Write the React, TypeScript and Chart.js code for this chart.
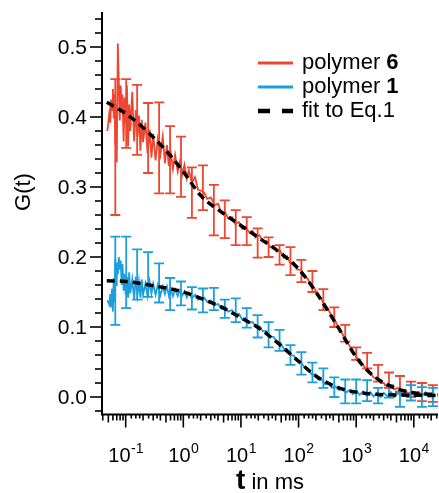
import React, { useEffect, useRef } from "react";
import { Chart, registerables } from "chart.js";

Chart.register(...registerables);

const FONT = '"Liberation Sans", Arial, Helvetica, sans-serif';
const RED = "#ee4630";
const BLUE = "#1c9fdc";

// lag times (ms)
const lagTimes = [
  0.048, 0.05, 0.052, 0.054, 0.056, 0.058, 0.06, 0.062, 0.064, 0.066, 0.068, 0.07, 0.073, 0.076, 0.079,
  0.082, 0.085, 0.088, 0.092, 0.096, 0.1, 0.105, 0.11, 0.115, 0.12, 0.13, 0.14, 0.15, 0.16, 0.17,
  0.18, 0.19, 0.2, 0.22, 0.24, 0.26, 0.28, 0.3, 0.33, 0.36, 0.4, 0.44, 0.48, 0.52, 0.56,
  0.6, 0.66, 0.72, 0.8, 0.88, 0.96, 1.05, 1.15, 1.25, 1.4, 1.6, 1.8, 2.0,
  2.3, 2.6, 3.0, 3.5, 4.0, 4.6, 5.3, 6, 7, 8, 9.2, 10.5, 12, 14, 16, 18, 21, 24, 28, 32, 37, 42, 48,
  55, 63, 72, 83, 95, 110, 125, 145, 165, 190, 220, 250, 290, 330, 380, 440, 500, 580, 660, 760, 870,
  1000, 1150, 1320, 1520, 1750, 2000, 2300, 2650, 3000, 3500, 4000, 4600, 5300, 6000, 7000, 8000,
  9200, 10500, 12000, 14000, 16000, 18500, 21000, 24000,
];

// polymer 6 (red) correlation data
const polymer6 = [
  0.380, 0.392, 0.405, 0.392, 0.425, 0.410, 0.440, 0.398, 0.432, 0.360, 0.418, 0.335, 0.505, 0.450, 0.395,
  0.445, 0.410, 0.432, 0.365, 0.428, 0.392, 0.445, 0.358, 0.418, 0.380, 0.436, 0.365, 0.410, 0.372, 0.402,
  0.352, 0.396, 0.364, 0.392, 0.348, 0.382, 0.342, 0.376, 0.338, 0.368, 0.346, 0.372, 0.334, 0.360, 0.330,
  0.352, 0.326, 0.346, 0.322, 0.338, 0.318, 0.332, 0.312, 0.324, 0.306, 0.314, 0.296, 0.295,
  0.292, 0.283, 0.285, 0.274, 0.276, 0.263, 0.264, 0.255, 0.257, 0.247, 0.250, 0.240, 0.243, 0.235, 0.237, 0.228, 0.231, 0.222, 0.223, 0.214, 0.216, 0.208, 0.209,
  0.199, 0.201, 0.191, 0.192, 0.182, 0.182, 0.172, 0.169, 0.158, 0.155, 0.144, 0.140, 0.129, 0.125, 0.114, 0.108, 0.097, 0.090, 0.080, 0.074, 0.064,
  0.058, 0.050, 0.046, 0.038, 0.035, 0.028, 0.027, 0.020, 0.020, 0.014, 0.015, 0.011, 0.013, 0.008, 0.010, 0.005,
  0.008, 0.004, 0.007, 0.003, 0.006, 0.002, 0.005, 0.001,
];

// polymer 1 (blue) correlation data
const polymer1 = [
  0.138, 0.135, 0.132, 0.147, 0.128, 0.155, 0.122, 0.170, 0.135, 0.198, 0.160, 0.192, 0.175, 0.200, 0.182,
  0.195, 0.160, 0.190, 0.152, 0.176, 0.146, 0.172, 0.142, 0.178, 0.148, 0.168, 0.140, 0.172, 0.146, 0.165,
  0.142, 0.168, 0.146, 0.162, 0.144, 0.165, 0.148, 0.162, 0.146, 0.160, 0.145, 0.158, 0.147, 0.158, 0.145,
  0.156, 0.144, 0.154, 0.144, 0.153, 0.145, 0.151, 0.142, 0.149, 0.141, 0.146, 0.139, 0.142,
  0.142, 0.136, 0.138, 0.131, 0.133, 0.126, 0.129, 0.122, 0.124, 0.117, 0.119, 0.111, 0.113, 0.106, 0.107, 0.100, 0.101, 0.094, 0.094, 0.086, 0.086, 0.078, 0.078,
  0.069, 0.068, 0.060, 0.059, 0.051, 0.050, 0.043, 0.040, 0.033, 0.032, 0.025, 0.025, 0.018, 0.019, 0.013, 0.015, 0.010, 0.012, 0.006, 0.010, 0.004,
  0.009, 0.003, 0.008, 0.002, 0.007, 0.001, 0.006, 0.000, 0.006, 0.001, 0.007, 0.000, 0.006, 0.002, 0.008, 0.001,
  0.006, 0.000, 0.005, 0.002, 0.007, 0.001, 0.006, 0.002,
];

// fits to Eq.1
const fitTimes6 = [0.047, 0.1, 0.2, 0.5, 1, 2, 5, 10, 20, 50, 100, 200, 500, 1000, 2000, 5000, 10000, 26000];
const fit6 = [0.421, 0.405, 0.385, 0.352, 0.322, 0.288, 0.262, 0.245, 0.228, 0.205, 0.183, 0.150, 0.098, 0.057, 0.030, 0.012, 0.006, 0.003];
const fitTimes1 = [0.047, 0.1, 0.3, 1, 2, 5, 10, 20, 50, 100, 200, 500, 1000, 2000, 5000, 26000];
const fit1 = [0.166, 0.165, 0.159, 0.150, 0.141, 0.127, 0.113, 0.099, 0.073, 0.051, 0.030, 0.013, 0.007, 0.004, 0.003, 0.002];

// error bars
const errTimes = [
  0.066, 0.102, 0.158, 0.245, 0.38, 0.589, 0.912, 1.41, 2.19, 3.39, 5.25, 8.13, 12.6, 19.5, 30.2,
  46.8, 72.4, 112, 174, 269, 417, 646, 1000, 1549, 2399, 3715, 5754, 8913, 13800, 21380,
];
const err6Mean = [
  0.357, 0.405, 0.396, 0.370, 0.356, 0.339, 0.329, 0.292, 0.299, 0.267, 0.254, 0.242, 0.237, 0.220, 0.214,
  0.203, 0.194, 0.180, 0.165, 0.139, 0.114, 0.091, 0.062, 0.052, 0.034, 0.024, 0.018, 0.011, 0.007, 0.005,
];
const err6Dev = [
  0.097, 0.049, 0.050, 0.050, 0.065, 0.048, 0.043, 0.036, 0.032, 0.036, 0.027, 0.025, 0.020, 0.021, 0.014,
  0.014, 0.020, 0.016, 0.015, 0.015, 0.014, 0.012, 0.009, 0.011, 0.012, 0.011, 0.012, 0.011, 0.013, 0.012,
];
const err1Mean = [
  0.166, 0.178, 0.175, 0.175, 0.163, 0.147, 0.148, 0.141, 0.138, 0.140, 0.126, 0.124, 0.113, 0.101, 0.089,
  0.081, 0.060, 0.048, 0.035, 0.027, 0.014, 0.008, 0.008, 0.009, 0.002, 0.008, -0.003, 0.006, 0.000, 0.000,
];
const err1Dev = [
  0.063, 0.051, 0.036, 0.032, 0.028, 0.023, 0.017, 0.016, 0.017, 0.016, 0.013, 0.017, 0.014, 0.016, 0.018,
  0.015, 0.014, 0.016, 0.014, 0.014, 0.014, 0.017, 0.017, 0.015, 0.011, 0.009, 0.011, 0.011, 0.014, 0.013,
];

// axes
const X_MIN = 0.0388;
const X_MAX = 26300;
const Y_MIN = -0.025;
const Y_MAX = 0.55;
const yMajorTicks = [0, 0.1, 0.2, 0.3, 0.4, 0.5];
const yTickLabels = ["0.0", "0.1", "0.2", "0.3", "0.4", "0.5"];
const xDecades = [-1, 0, 1, 2, 3, 4];
const xTickExponents = ["-1", "0", "1", "2", "3", "4"];
const yTitle = "G(t)";
const xTitleBold = "t";
const xTitleRest = " in ms";

const legendItems = [
  { text: "polymer ", bold: "6", color: RED, dashed: false },
  { text: "polymer ", bold: "1", color: BLUE, dashed: false },
  { text: "fit to Eq.1", bold: "", color: "#000", dashed: true },
];

const errorBarPlugin = {
  id: "errorBars",
  beforeDatasetsDraw(chart: any) {
    const { ctx, scales } = chart;
    const x = scales.x;
    const y = scales.y;
    const drawSet = (means: number[], devs: number[], color: string) => {
      ctx.strokeStyle = color;
      ctx.lineWidth = 1.8;
      errTimes.forEach((t, i) => {
        const px = x.getPixelForValue(t);
        const top = y.getPixelForValue(means[i] + devs[i]);
        const bot = y.getPixelForValue(means[i] - devs[i]);
        ctx.beginPath();
        ctx.moveTo(px, top);
        ctx.lineTo(px, bot);
        ctx.moveTo(px - 5, top);
        ctx.lineTo(px + 5, top);
        ctx.moveTo(px - 5, bot);
        ctx.lineTo(px + 5, bot);
        ctx.stroke();
      });
    };
    ctx.save();
    drawSet(err6Mean, err6Dev, RED);
    drawSet(err1Mean, err1Dev, BLUE);
    ctx.restore();
  },
};

const axesPlugin = {
  id: "customAxes",
  afterDraw(chart: any) {
    const { ctx, scales, chartArea } = chart;
    const x = scales.x;
    const y = scales.y;
    const left = chartArea.left;
    const bottom = chartArea.bottom;
    ctx.save();
    ctx.strokeStyle = "#000";
    ctx.fillStyle = "#000";
    // axis lines
    ctx.lineWidth = 2;
    ctx.beginPath();
    ctx.moveTo(left, chartArea.top);
    ctx.lineTo(left, bottom + 1);
    ctx.moveTo(left - 1, bottom);
    ctx.lineTo(chartArea.right, bottom);
    ctx.stroke();

    // y ticks
    ctx.lineWidth = 1.6;
    for (let i = -1; i <= 27; i++) {
      const v = i * 0.02;
      const py = y.getPixelForValue(v);
      const major = i % 5 === 0;
      const len = major ? 12 : 7;
      ctx.beginPath();
      ctx.moveTo(left - len, py);
      ctx.lineTo(left, py);
      ctx.stroke();
    }
    ctx.font = `21px ${FONT}`;
    ctx.textAlign = "right";
    ctx.textBaseline = "middle";
    yMajorTicks.forEach((v, i) => {
      ctx.fillText(yTickLabels[i], left - 15, y.getPixelForValue(v) + 1);
    });

    // x ticks
    const subs = [1.25, 1.5, 1.75, 2, 2.5, 3, 3.5, 4, 5, 6, 7, 8, 9];
    for (let d = -2; d <= 4; d++) {
      const base = Math.pow(10, d);
      const mp = x.getPixelForValue(base);
      if (base >= X_MIN && base <= X_MAX) {
        ctx.beginPath();
        ctx.moveTo(mp, bottom);
        ctx.lineTo(mp, bottom + 13);
        ctx.stroke();
      }
      subs.forEach((s) => {
        const v = base * s;
        if (v < X_MIN || v > X_MAX) return;
        const p = x.getPixelForValue(v);
        const len = Number.isInteger(s) ? (s === 5 ? 8 : 6) : 4;
        ctx.beginPath();
        ctx.moveTo(p, bottom);
        ctx.lineTo(p, bottom + len);
        ctx.stroke();
      });
    }
    ctx.textAlign = "left";
    ctx.textBaseline = "alphabetic";
    xDecades.forEach((d, i) => {
      const px = x.getPixelForValue(Math.pow(10, d));
      ctx.font = `20px ${FONT}`;
      const wb = ctx.measureText("10").width;
      ctx.font = `14px ${FONT}`;
      const we = ctx.measureText(xTickExponents[i]).width;
      const start = px - (wb + we) / 2;
      ctx.font = `20px ${FONT}`;
      ctx.fillText("10", start, 462);
      ctx.font = `14px ${FONT}`;
      ctx.fillText(xTickExponents[i], start + wb + 0.5, 453);
    });

    // x title
    ctx.font = `bold 28px ${FONT}`;
    const wt = ctx.measureText(xTitleBold).width;
    ctx.font = `22px ${FONT}`;
    const wr = ctx.measureText(xTitleRest).width;
    const cx = (chartArea.left + chartArea.right) / 2;
    const sx = cx - (wt + wr) / 2;
    ctx.font = `bold 28px ${FONT}`;
    ctx.fillText(xTitleBold, sx, 489);
    ctx.font = `22px ${FONT}`;
    ctx.fillText(xTitleRest, sx + wt, 489);

    // y title
    ctx.save();
    ctx.translate(24, 192);
    ctx.rotate(-Math.PI / 2);
    ctx.font = `22px ${FONT}`;
    ctx.textAlign = "center";
    ctx.textBaseline = "middle";
    ctx.fillText(yTitle, 0, 0);
    ctx.restore();

    // legend
    const baselines = [69, 93, 117];
    legendItems.forEach((item, i) => {
      const by = baselines[i];
      const ly = by - 6;
      ctx.strokeStyle = item.color;
      if (item.dashed) {
        ctx.lineWidth = 4.5;
        ctx.beginPath();
        ctx.moveTo(258, ly);
        ctx.lineTo(270, ly);
        ctx.moveTo(282, ly);
        ctx.lineTo(293, ly);
        ctx.stroke();
      } else {
        ctx.lineWidth = 3;
        ctx.beginPath();
        ctx.moveTo(258, ly);
        ctx.lineTo(293, ly);
        ctx.stroke();
      }
      ctx.fillStyle = "#000";
      ctx.textAlign = "left";
      ctx.textBaseline = "alphabetic";
      ctx.font = `22px ${FONT}`;
      ctx.fillText(item.text, 302, by);
      if (item.bold) {
        const w = ctx.measureText(item.text).width;
        ctx.font = `bold 22px ${FONT}`;
        ctx.fillText(item.bold, 302 + w, by);
      }
    });
    ctx.restore();
  },
};

export default function App() {
  const canvasRef = useRef<HTMLCanvasElement | null>(null);

  useEffect(() => {
    const canvas = canvasRef.current;
    if (!canvas) return;
    const toPts = (xs: number[], ys: number[]) => xs.map((t, i) => ({ x: t, y: ys[i] }));
    const chart = new Chart(canvas, {
      type: "line",
      data: {
        datasets: [
          {
            label: "fit polymer 6",
            data: toPts(fitTimes6, fit6),
            borderColor: "#000",
            borderWidth: 3.5,
            borderDash: [8, 5],
            pointRadius: 0,
            cubicInterpolationMode: "monotone",
          },
          {
            label: "fit polymer 1",
            data: toPts(fitTimes1, fit1),
            borderColor: "#000",
            borderWidth: 3.5,
            borderDash: [8, 5],
            pointRadius: 0,
            cubicInterpolationMode: "monotone",
          },
          {
            label: "polymer 1",
            data: toPts(lagTimes, polymer1),
            borderColor: BLUE,
            borderWidth: 1.8,
            pointRadius: 0,
            tension: 0,
          },
          {
            label: "polymer 6",
            data: toPts(lagTimes, polymer6),
            borderColor: RED,
            borderWidth: 1.8,
            pointRadius: 0,
            tension: 0,
          },
        ],
      } as any,
      options: {
        responsive: false,
        animation: false,
        devicePixelRatio: 1,
        events: [],
        layout: { padding: { left: 102, right: 1, top: 12, bottom: 78.5 } },
        scales: {
          x: { type: "logarithmic", min: X_MIN, max: X_MAX, display: false },
          y: { type: "linear", min: Y_MIN, max: Y_MAX, display: false },
        },
        plugins: { legend: { display: false }, tooltip: { enabled: false } },
      } as any,
      plugins: [errorBarPlugin, axesPlugin],
    });
    return () => chart.destroy();
  }, []);

  return (
    <div style={{ position: "absolute", left: 0, top: 0, width: 439, height: 493, background: "#fff" }}>
      <canvas ref={canvasRef} width={439} height={493} style={{ display: "block", width: 439, height: 493 }} />
    </div>
  );
}
